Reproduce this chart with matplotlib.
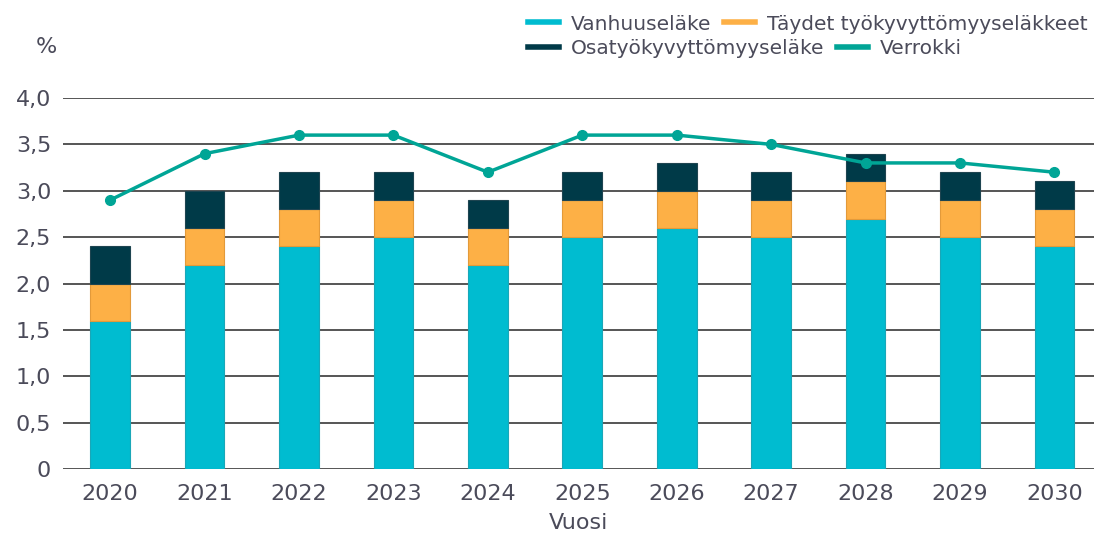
import numpy as np
import matplotlib
matplotlib.use("Agg")
import matplotlib.pyplot as plt
from matplotlib.lines import Line2D

# data
years = ["2020", "2021", "2022", "2023", "2024", "2025", "2026", "2027", "2028", "2029", "2030"]
vanhuus = [1.6, 2.2, 2.4, 2.5, 2.2, 2.5, 2.6, 2.5, 2.7, 2.5, 2.4]
taydet = [0.4, 0.4, 0.4, 0.4, 0.4, 0.4, 0.4, 0.4, 0.4, 0.4, 0.4]
osa = [0.4, 0.4, 0.4, 0.3, 0.3, 0.3, 0.3, 0.3, 0.3, 0.3, 0.3]
verrokki = [2.9, 3.4, 3.6, 3.6, 3.2, 3.6, 3.6, 3.5, 3.3, 3.3, 3.2]
labels = ["Vanhuuseläke", "Täydet työkyvyttömyyseläkkeet", "Osatyökyvyttömyyseläke", "Verrokki"]

c_blue = "#00BCD0"
c_orange = "#FDB046"
c_dark = "#003A48"
c_line = "#00A596"
c_text = "#4B4B5A"

plt.rcParams['font.family'] = ['DejaVu Sans']

fig = plt.figure(figsize=(10.94, 5.40), dpi=100)
ax = fig.add_axes([0.0576, 0.1315, 0.9424, 0.687])

x = np.arange(len(years))
w = 0.42
b1 = np.array(vanhuus)
b2 = b1 + np.array(taydet)
ax.bar(x, vanhuus, w, color=c_blue, edgecolor="#1AA7B8", linewidth=0.8, zorder=3)
ax.bar(x, taydet, w, bottom=b1, color=c_orange, edgecolor="#E39A3A", linewidth=0.8, zorder=3)
ax.bar(x, osa, w, bottom=b2, color=c_dark, edgecolor="#1E4450", linewidth=0.8, zorder=3)
ax.plot(x, verrokki, color=c_line, lw=2.5, marker="o", markersize=7, zorder=5, clip_on=False)

ax.set_xlim(-0.5, 10.42)
ax.set_ylim(0, 4.0)
yt = np.arange(0, 4.01, 0.5)
ax.set_yticks(yt)
ax.set_yticklabels(["0"] + [("%.1f" % v).replace(".", ",") for v in yt[1:]])
ax.set_xticks(x)
ax.set_xticklabels(years)
ax.tick_params(axis="y", length=0, pad=8.5, labelsize=16, labelcolor=c_text)
ax.tick_params(axis="x", length=0, pad=11, labelsize=16, labelcolor=c_text)
ax.yaxis.grid(True, color="#555555", lw=1.4, zorder=0)
ax.set_axisbelow(True)
for s in ax.spines.values():
    s.set_visible(False)

ax.set_xlabel("Vuosi", fontsize=16, color=c_text, labelpad=6)
fig.text(46 / 1094, 1 - 47 / 540, "%", fontsize=16, color=c_text, ha="center", va="center")

# legend: two rows, each flowing left to right
def color_of(i):
    return [c_blue, c_orange, c_dark, c_line][i]

rows = [(0, 1, 1 - 24 / 540), (2, 3, 1 - 49 / 540)]
for i, j, yy in rows:
    hs = [Line2D([], [], color=color_of(i), lw=4), Line2D([], [], color=color_of(j), lw=4)]
    leg = fig.legend(hs, [labels[i], labels[j]], ncol=2, loc="center left",
                     bbox_to_anchor=(528 / 1094, yy), frameon=False, fontsize=14.5,
                     handlelength=1.55, handletextpad=0.6, columnspacing=0.6,
                     borderpad=0, borderaxespad=0)
    for t in leg.get_texts():
        t.set_color(c_text)

fig.savefig("out.png", dpi=100)
